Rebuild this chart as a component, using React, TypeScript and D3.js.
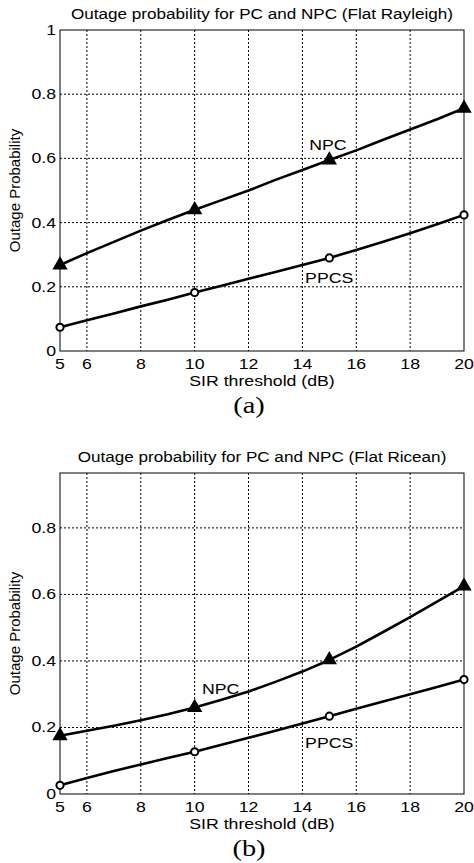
import React, { useEffect, useRef } from "react";
import * as d3 from "d3";

// SIR threshold (dB) sample points
const sir = [5, 6, 7, 8, 9, 10, 11, 12, 13, 14, 15, 16, 17, 18, 19, 20];
const markerSir = [5, 10, 15, 20];

// (a) Flat Rayleigh
const rayleighNPC = [0.268, 0.305, 0.34, 0.375, 0.408, 0.44, 0.47, 0.5, 0.533, 0.564, 0.595, 0.625, 0.658, 0.69, 0.722, 0.756];
const rayleighPPCS = [0.074, 0.096, 0.117, 0.139, 0.16, 0.182, 0.203, 0.225, 0.246, 0.268, 0.29, 0.315, 0.34, 0.367, 0.395, 0.424];

// (b) Flat Ricean
const riceanNPC = [0.175, 0.19, 0.205, 0.222, 0.24, 0.26, 0.283, 0.308, 0.337, 0.368, 0.403, 0.443, 0.487, 0.532, 0.578, 0.625];
const riceanPPCS = [0.026, 0.048, 0.069, 0.089, 0.108, 0.127, 0.148, 0.169, 0.19, 0.212, 0.234, 0.256, 0.278, 0.3, 0.322, 0.344];

const xTicks = [5, 6, 8, 10, 12, 14, 16, 18, 20];
const yTicksA = [0, 0.2, 0.4, 0.6, 0.8, 1];
const yTicksB = [0, 0.2, 0.4, 0.6, 0.8];

const FONT = "'Liberation Sans', Arial, sans-serif";
const SERIF = "'Liberation Serif', 'Times New Roman', serif";
const SX = 1.18; // the source figure is stretched horizontally

type PanelProps = {
  top: number;
  title: string;
  caption: string;
  npc: number[];
  ppcs: number[];
  yMax: number;
  yTicks: number[];
  npcLabel: [number, number];
  ppcsLabel: [number, number];
};

const Panel = ({ top, title, caption, npc, ppcs, yMax, yTicks, npcLabel, ppcsLabel }: PanelProps) => {
  const gRef = useRef<SVGGElement>(null);

  useEffect(() => {
    const g = d3.select(gRef.current);
    g.selectAll("*").remove();

    const left = 60, right = 464;
    const plotTop = top + 30, plotBottom = top + 351;

    const x = d3.scaleLinear().domain([5, 20]).range([left, right]);
    const y = d3.scaleLinear().domain([0, yMax]).range([plotBottom, plotTop]);

    const label = (tx: number, ty: number, str: string, anchor = "start", size = 15, family = FONT) =>
      g.append("text")
        .attr("transform", `translate(${tx},${ty}) scale(${SX},1)`)
        .attr("text-anchor", anchor)
        .style("font-family", family).style("font-size", `${size}px`)
        .text(str);

    // grid
    g.selectAll(".vgrid")
      .data(xTicks.filter(t => t > 5 && t < 20))
      .join("line")
      .attr("x1", d => x(d)).attr("x2", d => x(d))
      .attr("y1", plotTop).attr("y2", plotBottom)
      .attr("stroke", "#000").attr("stroke-width", 1)
      .attr("stroke-dasharray", "2,2");
    g.selectAll(".hgrid")
      .data(yTicks.filter(t => t > 0 && t < yMax))
      .join("line")
      .attr("x1", left).attr("x2", right)
      .attr("y1", d => y(d)).attr("y2", d => y(d))
      .attr("stroke", "#000").attr("stroke-width", 1)
      .attr("stroke-dasharray", "2,2");

    // box
    g.append("rect")
      .attr("x", left).attr("y", plotTop)
      .attr("width", right - left).attr("height", plotBottom - plotTop)
      .attr("fill", "none").attr("stroke", "#000").attr("stroke-width", 1);

    // tick labels
    xTicks.forEach(t => label(x(t), top + 369, String(t), "middle"));
    yTicks.forEach(t => label(left - 4, y(t) + 5, d3.format("~g")(t), "end"));

    // title and axis labels
    label((left + right) / 2, top + 19, title, "middle", 14.5);
    label((left + right) / 2, top + 386, "SIR threshold (dB)", "middle");
    g.append("text")
      .attr("transform", `translate(20,${(plotTop + plotBottom) / 2}) rotate(-90)`)
      .attr("text-anchor", "middle")
      .style("font-family", FONT).style("font-size", "15px")
      .text("Outage Probability");
    label((left + right) / 2 - 13, top + 413, caption, "middle", 24, SERIF);

    const line = d3.line<number>()
      .x((_, i) => x(sir[i]))
      .y(d => y(d));

    [npc, ppcs].forEach(series => {
      g.append("path")
        .attr("d", line(series))
        .attr("fill", "none").attr("stroke", "#000")
        .attr("stroke-width", 2.6).attr("stroke-linejoin", "round");
    });

    const tri = d3.symbol().type(d3.symbolTriangle).size(70);
    g.selectAll(".tri")
      .data(markerSir)
      .join("path")
      .attr("d", tri())
      .attr("transform", d => `translate(${x(d)},${y(npc[sir.indexOf(d)])})`)
      .attr("fill", "#000").attr("stroke", "#000").attr("stroke-width", 1.5);
    g.selectAll(".circ")
      .data(markerSir)
      .join("circle")
      .attr("cx", d => x(d)).attr("cy", d => y(ppcs[sir.indexOf(d)]))
      .attr("r", 3.6)
      .attr("fill", "#fff").attr("stroke", "#000").attr("stroke-width", 2);

    // curve labels
    label(x(npcLabel[0]), y(npcLabel[1]), "NPC");
    label(x(ppcsLabel[0]), y(ppcsLabel[1]), "PPCS");
  }, [top, title, caption, npc, ppcs, yMax, yTicks, npcLabel, ppcsLabel]);

  return <g ref={gRef} />;
};

export default function App() {
  useEffect(() => {
    document.body.style.margin = "0";
  }, []);
  return (
    <svg width={474} height={863} style={{ display: "block", background: "#fff" }}>
      <Panel
        top={0}
        title="Outage probability for PC and NPC (Flat Rayleigh)"
        caption="(a)"
        npc={rayleighNPC}
        ppcs={rayleighPPCS}
        yMax={1}
        yTicks={yTicksA}
        npcLabel={[14.25, 0.626]}
        ppcsLabel={[14.1, 0.212]}
      />
      <Panel
        top={443}
        title="Outage probability for PC and NPC (Flat Ricean)"
        caption="(b)"
        npc={riceanNPC}
        ppcs={riceanPPCS}
        yMax={0.965}
        yTicks={yTicksB}
        npcLabel={[10.27, 0.3]}
        ppcsLabel={[14.1, 0.137]}
      />
    </svg>
  );
}
